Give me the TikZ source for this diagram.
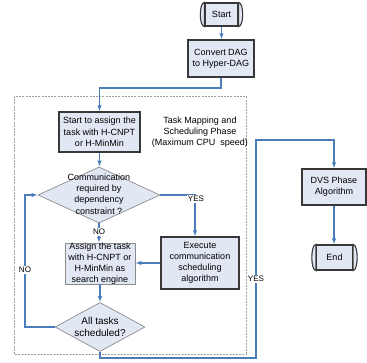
\documentclass[tikz,border=0pt]{standalone}
\usepackage{fontspec}
\setmainfont{Liberation Sans}
\usetikzlibrary{shapes.geometric,arrows.meta}
\definecolor{flowblue}{HTML}{4A7EBB}
\definecolor{boxfill}{HTML}{E2E7F4}
\definecolor{boxline}{HTML}{383838}
\definecolor{softline}{HTML}{8C8C8C}
\definecolor{dashgray}{HTML}{A0A0A0}
\begin{document}
\begin{tikzpicture}[x=1pt,y=-1pt,
  font=\fontsize{9}{10.8}\selectfont,
  box/.style={draw=boxline, line width=1.4pt, fill=boxfill, align=center, inner sep=0pt},
  softbox/.style={draw=softline, line width=0.9pt, fill=boxfill, align=center, inner sep=0pt},
  dec/.style={diamond, draw=softline, line width=0.7pt, fill=boxfill, inner sep=0pt},
  term/.style={draw=boxline, line width=1.1pt, fill=boxfill, inner sep=0pt},
  bulge/.style={draw=boxline, line width=1.1pt, fill=boxfill},
  flow/.style={draw=flowblue, line width=1.1pt, -{Latex[length=6pt,width=4.5pt]}},
  lbl/.style={fill=white, inner sep=0.8pt, font=\fontsize{8}{9}\selectfont},
  txt/.style={align=center, inner sep=0pt}]
\useasboundingbox (0,0) rectangle (367,362);

% phase frame
\draw[dashgray, line width=0.7pt, dash pattern=on 2pt off 1.2pt] (14,96) rectangle (246,354);
\node[txt] (phase) at (200,132) {Task Mapping and\\Scheduling Phase\\(Maximum CPU\ \ speed)};

% terminators
\node[term, minimum width=33pt, minimum height=23pt] (start) at (221.5,14.5) {Start};
\draw[bulge] (start.north west) .. controls ([xshift=-5.5pt]start.north west) and ([xshift=-5.5pt]start.south west) .. (start.south west) -- cycle;
\draw[bulge] (start.north east) .. controls ([xshift=5.5pt]start.north east) and ([xshift=5.5pt]start.south east) .. (start.south east) -- cycle;

\node[term, minimum width=36pt, minimum height=25pt] (end) at (334.5,257.5) {End};
\draw[bulge] (end.north west) .. controls ([xshift=-5.5pt]end.north west) and ([xshift=-5.5pt]end.south west) .. (end.south west) -- cycle;
\draw[bulge] (end.north east) .. controls ([xshift=5.5pt]end.north east) and ([xshift=5.5pt]end.south east) .. (end.south east) -- cycle;

% boxes
\node[box, minimum width=66pt, minimum height=37pt] (conv) at (221,58.5) {Convert DAG\\to Hyper-DAG};
\node[box, minimum width=81pt, minimum height=40pt, font=\fontsize{9}{11.5}\selectfont] (a1) at (99.5,132) {Start to assign the\\task with H-CNPT\\or H-MinMin};
\node[box, minimum width=78pt, minimum height=52pt] (exec) at (200,263) {Execute\\communication\\scheduling\\algorithm};
\node[softbox, minimum width=70pt, minimum height=41pt] (a2) at (100,263.5) {Assign the task\\with H-CNPT or\\H-MinMin as\\search engine};
\node[box, minimum width=64pt, minimum height=36pt] (dvs) at (334,187) {DVS Phase\\Algorithm};

% decisions
\node[dec, minimum width=122pt, minimum height=56pt] (d1) at (99,195) {};
\node[txt, font=\fontsize{9}{11.2}\selectfont] (d1t) at (99,194) {Communication\\required by\\dependency\\constraint ?};
\node[dec, minimum width=90pt, minimum height=49pt] (d2) at (100,327) {};
\node[txt, font=\fontsize{10}{11.5}\selectfont] (d2t) at (100,327) {All tasks\\scheduled?};

% connectors
\coordinate (j1) at (221,88);
\draw[flow] (start.south) -- (start.south |- conv.north);
\draw[flow] (conv.south |- conv.south) -- (conv.south |- j1) -| (a1.north);
\draw[flow] (a1.south) -- (a1.south |- d1.north);
\draw[flow] (d1.east) -| ([xshift=-5pt]exec.north);
\node[lbl] (yes1) at (196,199) {YES};
\draw[flow] (d1.south) -- (d1.south |- a2.north);
\node[lbl] (no1) at (99,232) {NO};
\draw[flow] (exec.west) -- (exec.west -| a2.east);
\draw[flow] (a2.south) -- (a2.south |- d2.north);
\coordinate (nl) at (25,260);
\draw[flow] (d2.west) -| (nl) |- (d1.west);
\node[lbl] (no2) at (25,270) {NO};
\coordinate (ya) at (256,358);
\coordinate (yb) at (256,140);
\draw[flow] (d2.south) |- (ya) -- (yb) -| (dvs.north);
\node[lbl] (yes2) at (256,279) {YES};
\draw[flow] (dvs.south) -- (dvs.south |- end.north);
\end{tikzpicture}
\end{document}
